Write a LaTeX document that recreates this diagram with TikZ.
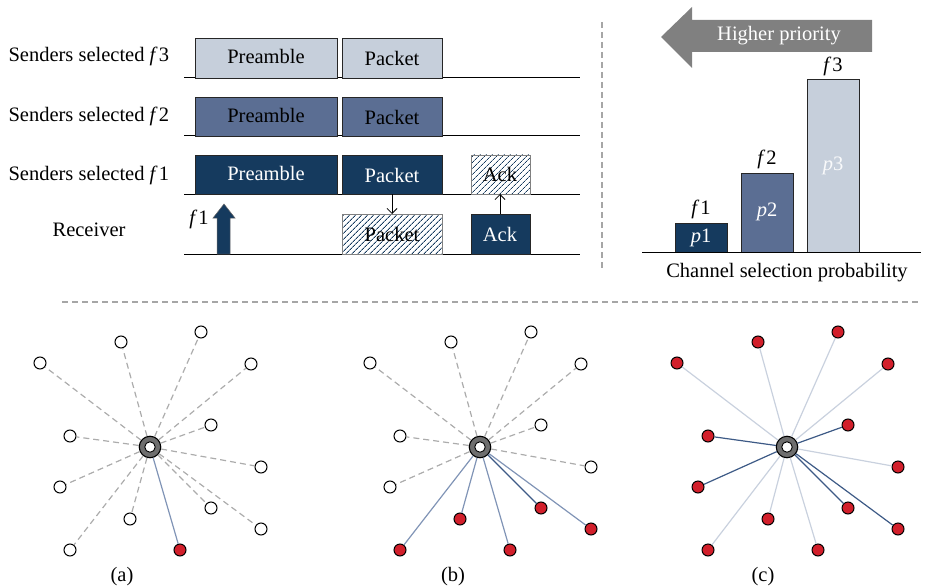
\documentclass[tikz,border=0pt]{standalone}
\usepackage{fontspec}
\setmainfont{Liberation Serif}
\usetikzlibrary{arrows.meta,patterns.meta}
\definecolor{navy}{HTML}{153A5E}
\definecolor{midblue}{HTML}{5B6E93}
\definecolor{lightblue}{HTML}{C6CFDB}
\definecolor{hubgray}{HTML}{6E6E6E}
\definecolor{arrowgray}{HTML}{808080}
\definecolor{redn}{HTML}{D21F2B}
\definecolor{edgeb}{HTML}{8094B6}
\definecolor{edgel}{HTML}{C9D1DE}
\definecolor{edged}{HTML}{3D5A86}
\newcommand\ff[1]{{\itshape f}\,#1}
\newcommand\spk[6]{%
  \node[#5] (#1#2) at (#3,#4) {};
  \draw[#6] (#1c) -- (#1#2);
}
\newcommand\hubat[3]{%
  \node[hub] (#1c) at (#2,#3) {};
  \node[hubin] (#1ci) at (#2,#3) {};
}
\begin{document}
\begin{tikzpicture}[x=1pt,y=-1pt,
  every node/.style={font=\fontsize{20.5}{23}\selectfont},
  boxA/.style={draw=black!85,line width=0.8pt,fill=lightblue},
  boxB/.style={draw=black!85,line width=0.8pt,fill=midblue},
  boxC/.style={draw=black!85,line width=0.8pt,fill=navy},
  hatchbox/.style={draw=gray,line width=0.8pt,pattern={Lines[angle=45,distance=4pt,line width=0.85pt]},pattern color=navy},
  base/.style={line width=1pt,black},
  sep/.style={draw=gray!70,line width=1.2pt,dash pattern=on 6pt off 4pt},
  wnode/.style={circle,draw=black,fill=white,line width=1pt,minimum size=12pt,inner sep=0pt},
  rnode/.style={circle,draw=black,fill=redn,line width=1pt,minimum size=12pt,inner sep=0pt},
  hub/.style={circle,draw=black,fill=hubgray,line width=1.1pt,minimum size=21.5pt,inner sep=0pt},
  hubin/.style={circle,draw=black,fill=white,line width=0.9pt,minimum size=10.5pt,inner sep=0pt},
  edgedash/.style={draw=gray!65,line width=1.2pt,dash pattern=on 6pt off 4pt},
  edgeblue/.style={draw=edgeb,line width=1.2pt},
  edgelight/.style={draw=edgel,line width=1.2pt},
  edgedark/.style={draw=edged,line width=1.2pt},
  lbl/.style={anchor=west},
  conn/.style={-{Straight Barb[length=5pt,width=10pt]},line width=0.8pt}
]
\useasboundingbox (0,0) rectangle (933,588);

% ---------- top-left timing diagram ----------
\node[lbl] (l3) at (5,56) {Senders selected \ff{3}};
\node[lbl] (l2) at (5,116) {Senders selected \ff{2}};
\node[lbl] (l1) at (5,175) {Senders selected \ff{1}};
\node (lr) at (89,230) {Receiver};

\draw[base] (184,78) -- (580,78);
\draw[base] (184,136) -- (580,136);
\draw[base] (184,194) -- (580,194);
\draw[base] (184,254) -- (580,254);

\path[boxA] (195,38) rectangle (337,78);
\path[boxA] (342,38) rectangle (442,78);
\node (pr3) at (266,56) {Preamble};
\node (pk3) at (392,58) {Packet};

\path[boxB] (195,97) rectangle (337,136);
\path[boxB] (342,97) rectangle (442,136);
\node (pr2) at (266,115) {Preamble};
\node (pk2) at (392,117) {Packet};

\path[boxC] (195,155) rectangle (337,194);
\path[boxC] (342,155) rectangle (442,194);
\node[text=white] (pr1) at (266,173) {Preamble};
\node[text=white] (pk1) at (392,175) {Packet};

\path[hatchbox] (342,214) rectangle (442,254);
\node (rpk) at (392,234) {Packet};
\path[hatchbox] (471,155) rectangle (530,194);
\node (ackh) at (500,174) {Ack};
\path[boxC] (471,214) rectangle (530,254);
\node[text=white] (acks) at (500,234) {Ack};

\coordinate (pkb) at (392,194);
\coordinate (rpkt) at (392,214);
\coordinate (acksT) at (500,214);
\coordinate (ackhB) at (500,194);
\draw[conn] (pkb) -- (rpkt);
\draw[conn] (acksT) -- (ackhB);

\fill[navy,draw=black!60,line width=0.5pt] (217,254) -- (217,218) -- (213,218) -- (224,204) -- (235,218) -- (230,218) -- (230,254) -- cycle;
\node (f1l) at (199,219) {\ff{1}};

% ---------- separators ----------
\draw[sep] (602,22) -- (602,270);
\draw[sep] (62,302) -- (921,302);

% ---------- right bar chart ----------
\fill[arrowgray] (661,37) -- (692,7) -- (692,20) -- (872,20) -- (872,52) -- (692,52) -- (692,68) -- cycle;
\node[text=white] (hp) at (779,36) {Higher priority};

\path[boxC] (675,223) rectangle (727,252);
\path[boxB] (741,173) rectangle (793,252);
\path[boxA] (807,79) rectangle (859,252);
\draw[base] (642,252) -- (921,252);
\node (bf1) at (701,209) {\ff{1}};
\node (bf2) at (767,159) {\ff{2}};
\node (bf3) at (833,66) {\ff{3}};
\node[text=white] (bp1) at (701,238) {{\itshape p}1};
\node[text=white] (bp2) at (767,212) {{\itshape p}2};
\node[text=white!90!lightblue] (bp3) at (833,166) {{\itshape p}3};
\node (csp) at (787,273) {Channel selection probability};

% ---------- graph (a) ----------
\hubat{a}{150}{447}
\spk{a}{1}{40}{363}{wnode}{edgedash}
\spk{a}{2}{121}{342}{wnode}{edgedash}
\spk{a}{3}{201}{332}{wnode}{edgedash}
\spk{a}{4}{251}{364}{wnode}{edgedash}
\spk{a}{5}{211}{425}{wnode}{edgedash}
\spk{a}{6}{70}{436}{wnode}{edgedash}
\spk{a}{7}{261}{467}{wnode}{edgedash}
\spk{a}{8}{60}{487}{wnode}{edgedash}
\spk{a}{9}{211}{508}{wnode}{edgedash}
\spk{a}{10}{130}{519}{wnode}{edgedash}
\spk{a}{11}{261}{529}{wnode}{edgedash}
\spk{a}{12}{70}{550}{wnode}{edgedash}
\spk{a}{13}{180}{550}{rnode}{edgeblue}
\node (la) at (122,577) {(a)};

% ---------- graph (b) ----------
\hubat{b}{480}{447}
\spk{b}{1}{370}{363}{wnode}{edgedash}
\spk{b}{2}{451}{342}{wnode}{edgedash}
\spk{b}{3}{531}{332}{wnode}{edgedash}
\spk{b}{4}{581}{364}{wnode}{edgedash}
\spk{b}{5}{541}{425}{wnode}{edgedash}
\spk{b}{6}{400}{436}{wnode}{edgedash}
\spk{b}{7}{591}{467}{wnode}{edgedash}
\spk{b}{8}{390}{487}{wnode}{edgedash}
\spk{b}{9}{541}{508}{rnode}{edgedark}
\spk{b}{10}{460}{519}{rnode}{edgeblue}
\spk{b}{11}{591}{529}{rnode}{edgeblue}
\spk{b}{12}{400}{550}{rnode}{edgeblue}
\spk{b}{13}{510}{550}{rnode}{edgeblue}
\node (lb) at (453,577) {(b)};

% ---------- graph (c) ----------
\hubat{c}{787}{447}
\spk{c}{1}{677}{363}{rnode}{edgelight}
\spk{c}{2}{758}{342}{rnode}{edgelight}
\spk{c}{3}{838}{332}{rnode}{edgelight}
\spk{c}{4}{888}{364}{rnode}{edgelight}
\spk{c}{5}{848}{425}{rnode}{edgedark}
\spk{c}{6}{708}{436}{rnode}{edgedark}
\spk{c}{7}{898}{467}{rnode}{edgelight}
\spk{c}{8}{698}{487}{rnode}{edgedark}
\spk{c}{9}{848}{508}{rnode}{edgedark}
\spk{c}{10}{768}{519}{rnode}{edgelight}
\spk{c}{11}{898}{529}{rnode}{edgedark}
\spk{c}{12}{708}{550}{rnode}{edgelight}
\spk{c}{13}{818}{550}{rnode}{edgelight}
\node (lc) at (763,577) {(c)};
\end{tikzpicture}
\end{document}
